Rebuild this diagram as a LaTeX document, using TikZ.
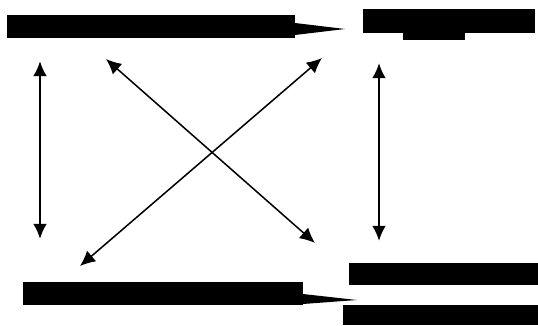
\documentclass[tikz,border=0pt]{standalone}
\usepackage{tikz}
\usetikzlibrary{arrows.meta}

\tikzset{
  blob/.style={fill=black,inner sep=0pt,outer sep=0pt},
  link/.style={{Latex[length=13pt,width=12pt]}-{Latex[length=13pt,width=12pt]},line width=1.3pt},
  heavylink/.style={link,line width=2.3pt}
}

\begin{document}
\begin{tikzpicture}
  \useasboundingbox (0,0) rectangle (16.14,9.75);

  \node[blob,minimum width=8.64cm,minimum height=0.69cm] (TopLeft) at (4.53,8.955) {};
  \fill (8.85,9.06) -- (10.35,8.88) -- (8.85,8.70) -- cycle;

  \node[blob,minimum width=5.16cm,minimum height=0.72cm] (TopRight) at (13.47,9.12) {};
  \fill (12.09,8.76) rectangle (13.95,8.55);

  \node[blob,minimum width=8.4cm,minimum height=0.69cm] (BottomLeft) at (4.89,0.945) {};
  \fill (9.09,0.93) -- (10.71,0.75) -- (9.09,0.63) -- cycle;

  \node[blob,minimum width=5.67cm,minimum height=0.66cm] (BottomRightA) at (13.305,1.53) {};
  \node[blob,minimum width=5.85cm,minimum height=0.6cm] (BottomRightB) at (13.215,0.3) {};

  % arrow ends
  \coordinate (leftUp) at (1.2,7.92);
  \coordinate (leftDown) at (1.2,2.58);
  \coordinate (rightUp) at (11.37,7.86);
  \coordinate (rightDown) at (11.37,2.52);
  \coordinate (crossNW) at (3.18,7.98);
  \coordinate (crossSE) at (9.45,2.46);
  \coordinate (crossSW) at (2.4,1.77);
  \coordinate (crossNE) at (9.66,8.01);

  \draw[heavylink] (leftUp) -- (leftDown);
  \draw[heavylink] (rightUp) -- (rightDown);
  \draw[link] (crossNW) -- (crossSE);
  \draw[link] (crossSW) -- (crossNE);

\end{tikzpicture}
\end{document}
